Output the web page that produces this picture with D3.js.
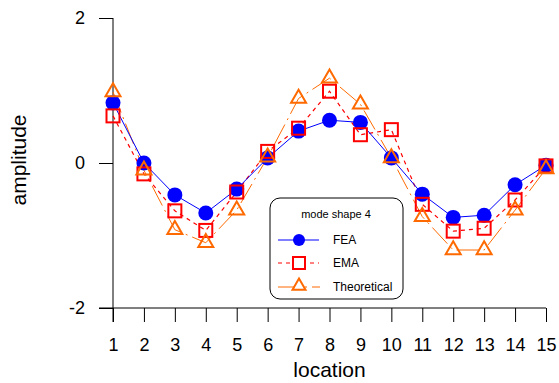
<!DOCTYPE html>
<html>
<head>
<meta charset="utf-8">
<script src="https://cdn.jsdelivr.net/npm/d3@7"></script>
<style>
  body { margin: 0; background: #fff; }
  text { font-family: "Liberation Sans", Arial, sans-serif; fill: #000; }
</style>
</head>
<body>
<svg id="chart"></svg>
<script>
var w = 559;
var h = 383;

var locations = [1, 2, 3, 4, 5, 6, 7, 8, 9, 10, 11, 12, 13, 14, 15];
var fea = [0.83, 0.0, -0.44, -0.69, -0.36, 0.07, 0.44, 0.59, 0.56, 0.07, -0.43, -0.75, -0.72, -0.30, -0.03];
var ema = [0.65, -0.15, -0.66, -0.93, -0.40, 0.16, 0.48, 0.99, 0.39, 0.46, -0.57, -0.94, -0.90, -0.51, -0.04];
var theory = [0.98, -0.10, -0.92, -1.10, -0.65, 0.08, 0.89, 1.17, 0.81, 0.07, -0.74, -1.20, -1.20, -0.65, -0.08];
var yTicks = [-2, 0, 2];
var seriesNames = ["FEA", "EMA", "Theoretical"];

var x = d3.scaleLinear().domain([1, 15]).range([113, 546]);
var y = d3.scaleLinear().domain([-2, 2]).range([308, 18]);

var svg = d3.select("#chart").attr("width", w).attr("height", h);

// axes
var tick = 14;
var xAxis = d3.axisBottom(x).tickValues(locations).tickSizeInner(tick).tickSizeOuter(0).tickPadding(16);
var gX = svg.append("g").attr("transform", "translate(0,308)").call(xAxis);
gX.select(".domain").remove();
gX.selectAll("text").style("font-size", "18px");

var yAxis = d3.axisLeft(y).tickValues(yTicks).tickSizeInner(tick).tickSizeOuter(0).tickPadding(14)
  .tickFormat(function(d) { return String(d); });
var gY = svg.append("g").attr("transform", "translate(113,0)").call(yAxis);
gY.select(".domain").remove();
gY.selectAll("text").style("font-size", "18px");
svg.selectAll(".tick line").attr("stroke", "#000");

svg.append("line").attr("x1", x(1) - tick).attr("x2", x(15)).attr("y1", y(-2)).attr("y2", y(-2)).attr("stroke", "#000");
svg.append("line").attr("x1", x(1)).attr("x2", x(1)).attr("y1", y(2)).attr("y2", y(-2) + tick).attr("stroke", "#000");

svg.append("text").attr("x", (x(1) + x(15)) / 2).attr("y", 377).attr("text-anchor", "middle")
  .style("font-size", "21px").text("location");
svg.append("text").attr("transform", "translate(26,160) rotate(-90)").attr("text-anchor", "middle")
  .style("font-size", "21px").text("amplitude");

// series
var line = d3.line().x(function(d, i) { return x(locations[i]); }).y(function(d) { return y(d); });

var tri = function(cx, cy, s) {
  var hh = s * 0.866;
  return "M" + cx + "," + (cy - hh * 2 / 3) + "L" + (cx + s / 2) + "," + (cy + hh / 3) + "L" + (cx - s / 2) + "," + (cy + hh / 3) + "Z";
};

svg.append("path").attr("d", line(theory)).attr("fill", "none").attr("stroke", "#ff6a00")
  .attr("stroke-width", 1).attr("stroke-dasharray", "22,5,2,5");
svg.append("path").attr("d", line(ema)).attr("fill", "none").attr("stroke", "#ff0000")
  .attr("stroke-width", 1.2).attr("stroke-dasharray", "4,4");
svg.append("path").attr("d", line(fea)).attr("fill", "none").attr("stroke", "#0000ff").attr("stroke-width", 1);

svg.append("g").selectAll("circle").data(fea).enter().append("circle")
  .attr("cx", function(d, i) { return x(locations[i]); }).attr("cy", function(d) { return y(d); })
  .attr("r", 7.5).attr("fill", "#0000ff");
svg.append("g").selectAll("rect").data(ema).enter().append("rect")
  .attr("x", function(d, i) { return x(locations[i]) - 6.5; }).attr("y", function(d) { return y(d) - 6.5; })
  .attr("width", 13).attr("height", 13).attr("fill", "none").attr("stroke", "#ff0000").attr("stroke-width", 2);
svg.append("g").selectAll("path").data(theory).enter().append("path")
  .attr("d", function(d, i) { return tri(x(locations[i]), y(d), 15); })
  .attr("fill", "none").attr("stroke", "#ff6a00").attr("stroke-width", 2);

// legend
var lg = svg.append("g");
lg.append("rect").attr("x", 270).attr("y", 198).attr("width", 133).attr("height", 101).attr("rx", 10)
  .attr("fill", "#fff").attr("stroke", "#000").attr("stroke-width", 1);
lg.append("text").attr("x", 336).attr("y", 218).attr("text-anchor", "middle").style("font-size", "11px").text("mode shape 4");
var rowY = [240, 263, 287];
lg.append("line").attr("x1", 278).attr("x2", 319).attr("y1", rowY[0]).attr("y2", rowY[0]).attr("stroke", "#0000ff");
lg.append("circle").attr("cx", 299).attr("cy", rowY[0]).attr("r", 6).attr("fill", "#0000ff");
lg.append("line").attr("x1", 278).attr("x2", 319).attr("y1", rowY[1]).attr("y2", rowY[1]).attr("stroke", "#ff0000").attr("stroke-dasharray", "4,4");
lg.append("rect").attr("x", 293).attr("y", rowY[1] - 6).attr("width", 12).attr("height", 12)
  .attr("fill", "#fff").attr("stroke", "#ff0000").attr("stroke-width", 2);
lg.append("line").attr("x1", 278).attr("x2", 320).attr("y1", rowY[2]).attr("y2", rowY[2]).attr("stroke", "#ff6a00").attr("stroke-dasharray", "22,5,2,5");
lg.append("path").attr("d", tri(299, rowY[2] - 1, 13)).attr("fill", "#fff").attr("stroke", "#ff6a00").attr("stroke-width", 2);
lg.selectAll(".lbl").data(seriesNames).enter().append("text").attr("class", "lbl")
  .attr("x", 333).attr("y", function(d, i) { return rowY[i] + 4; }).style("font-size", "12px").text(function(d) { return d; });
</script>
</body>
</html>
